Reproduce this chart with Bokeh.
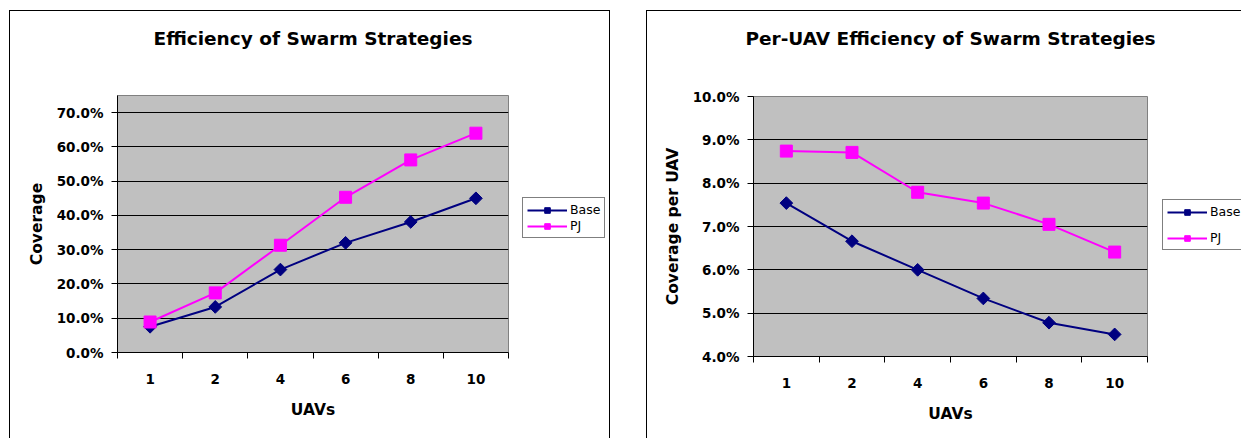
from bokeh.plotting import figure
from bokeh.layouts import row, column
from bokeh.models import (Range1d, FixedTicker, NumeralTickFormatter, Legend,
                          LegendItem, ColumnDataSource, Label)
from bokeh.embed import file_html
from bokeh.resources import INLINE

# --- data -------------------------------------------------------------------
uav_counts = ["1", "2", "4", "6", "8", "10"]

coverage_base = [0.075, 0.133, 0.242, 0.320, 0.381, 0.450]
coverage_pj = [0.089, 0.174, 0.313, 0.453, 0.562, 0.640]

per_uav_base = [0.0754, 0.0666, 0.0600, 0.0534, 0.0478, 0.0451]
per_uav_pj = [0.0874, 0.0871, 0.0779, 0.0754, 0.0705, 0.0641]

coverage_ticks = [0.0, 0.1, 0.2, 0.3, 0.4, 0.5, 0.6, 0.7]
per_uav_ticks = [0.04, 0.05, 0.06, 0.07, 0.08, 0.09, 0.10]

FONT = "DejaVu Sans"
NAVY = "#000080"
MAGENTA = "#FF00FF"
DIAMOND = 0.785398  # square turned 45 degrees
HEADING_H = 56


def bare_figure(width, height, x_range, y_range):
    f = figure(width=width, height=height, x_axis_type=None,
               y_axis_type=None, min_border=0, output_backend="svg",
               toolbar_location=None, x_range=x_range, y_range=y_range,
               background_fill_color=None, border_fill_color=None,
               outline_line_color=None)
    f.grid.visible = False
    return f


def series(f, src):
    lb = f.line("x", "base", source=src, line_color=NAVY, line_width=2)
    mb = f.scatter("x", "base", source=src, marker="square", angle=DIAMOND,
                   size=9, fill_color=NAVY, line_color=NAVY)
    lp = f.line("x", "pj", source=src, line_color=MAGENTA, line_width=2)
    mp = f.scatter("x", "pj", source=src, marker="square", size=12,
                   fill_color=MAGENTA, line_color=MAGENTA)
    return lb, mb, lp, mp


def make_chart(title, ylabel, base, pj, y_range, y_ticks, width, frame_w,
               frame_h, left, top, bottom, gap, margin, shadow, legend_y,
               legend_spacing):
    n = len(uav_counts)
    centers = [i + 0.5 for i in range(n)]
    bounds = [float(i) for i in range(n + 1)]
    src = ColumnDataSource(dict(x=centers, base=base, pj=pj))
    chart_h = top + frame_h + bottom

    # heading
    head = bare_figure(width, HEADING_H, Range1d(0, width),
                       Range1d(0, HEADING_H))
    head.add_layout(Label(x=left + frame_w / 2, y=HEADING_H / 2, text=title,
                          text_align="center", text_baseline="middle",
                          text_font=FONT, text_font_size="18.5px",
                          text_font_style="bold", text_color="black"))

    # plot
    p = figure(frame_width=frame_w, frame_height=frame_h,
               min_border_left=left, min_border_right=gap,
               min_border_top=top, min_border_bottom=bottom,
               x_range=Range1d(0, n), y_range=Range1d(*y_range),
               output_backend="svg", toolbar_location=None,
               background_fill_color="#C0C0C0", border_fill_color=None,
               outline_line_color="#808080")

    ya = p.yaxis[0]
    ya.ticker = FixedTicker(ticks=y_ticks)
    ya.formatter = NumeralTickFormatter(format="0.0%")
    ya.axis_label = ylabel
    ya.axis_label_text_font = FONT
    ya.axis_label_text_font_size = "15.5px"
    ya.axis_label_text_font_style = "bold"
    ya.axis_label_text_color = "black"
    ya.axis_label_standoff = 8
    ya.major_label_text_font = FONT
    ya.major_label_text_font_size = "13.5px"
    ya.major_label_text_font_style = "bold"
    ya.major_label_text_color = "black"
    ya.major_label_standoff = 8
    ya.major_tick_in = 0
    ya.major_tick_out = 6
    ya.minor_tick_out = 0
    ya.axis_line_color = "black"
    ya.major_tick_line_color = "black"

    # category axis: labels centred, tick marks on the category edges
    xa = p.xaxis[0]
    xa.ticker = FixedTicker(ticks=centers, minor_ticks=bounds)
    xa.major_label_overrides = {c: lab for c, lab in zip(centers, uav_counts)}
    xa.axis_label = "UAVs"
    xa.axis_label_text_font = FONT
    xa.axis_label_text_font_size = "15.5px"
    xa.axis_label_text_font_style = "bold"
    xa.axis_label_text_color = "black"
    xa.axis_label_standoff = 14
    xa.major_label_text_font = FONT
    xa.major_label_text_font_size = "13.5px"
    xa.major_label_text_font_style = "bold"
    xa.major_label_text_color = "black"
    xa.major_label_standoff = 15
    xa.major_tick_in = 0
    xa.major_tick_out = 0
    xa.minor_tick_in = 0
    xa.minor_tick_out = 6
    xa.minor_tick_line_color = "black"
    xa.axis_line_color = "black"

    p.xgrid.visible = False
    p.ygrid.ticker = FixedTicker(ticks=y_ticks)
    p.ygrid.grid_line_color = "black"
    p.ygrid.grid_line_width = 1

    series(p, src)

    # legend panel beside the plot; its swatch renderers sit outside the view
    chart_w = left + frame_w + gap
    key = bare_figure(width - chart_w, chart_h, Range1d(-2 * n, -n),
                      Range1d(*y_range))
    lb, mb, lp, mp = series(key, src)
    legend = Legend(items=[LegendItem(label="Base", renderers=[lb, mb]),
                           LegendItem(label="PJ", renderers=[lp, mp])],
                    location=(0, legend_y))
    legend.label_text_font = FONT
    legend.label_text_font_size = "12.5px"
    legend.label_text_color = "black"
    legend.glyph_width = 40
    legend.glyph_height = 14
    legend.label_height = 14
    legend.label_standoff = 3
    legend.spacing = legend_spacing
    legend.padding = 4
    legend.margin = 0
    legend.border_line_color = "black"
    legend.border_line_width = 1
    legend.background_fill_color = "white"
    legend.background_fill_alpha = 1.0
    key.add_layout(legend)

    return column(head, row(p, key, spacing=0), spacing=0, margin=margin,
                  styles={"box-shadow": shadow})


left_chart = make_chart("Efficiency of Swarm Strategies", "Coverage",
                        coverage_base, coverage_pj, (0.0, 0.75),
                        coverage_ticks, 601, 391, 257, 108, 29, 86, 14,
                        (10, 0, 0, 9),
                        "inset 1px 1px 0 0 #000, inset -1px 0 0 0 #000",
                        114, 1)

right_chart = make_chart("Per-UAV Efficiency of Swarm Strategies",
                         "Coverage per UAV",
                         per_uav_base, per_uav_pj, (0.04, 0.10),
                         per_uav_ticks, 595, 394, 260, 107, 30, 82, 15,
                         (10, 0, 0, 36),
                         "inset 1px 1px 0 0 #000",
                         106, 11)

layout = row(left_chart, right_chart, spacing=0)

open("out.html", "w").write(file_html(layout, INLINE))
